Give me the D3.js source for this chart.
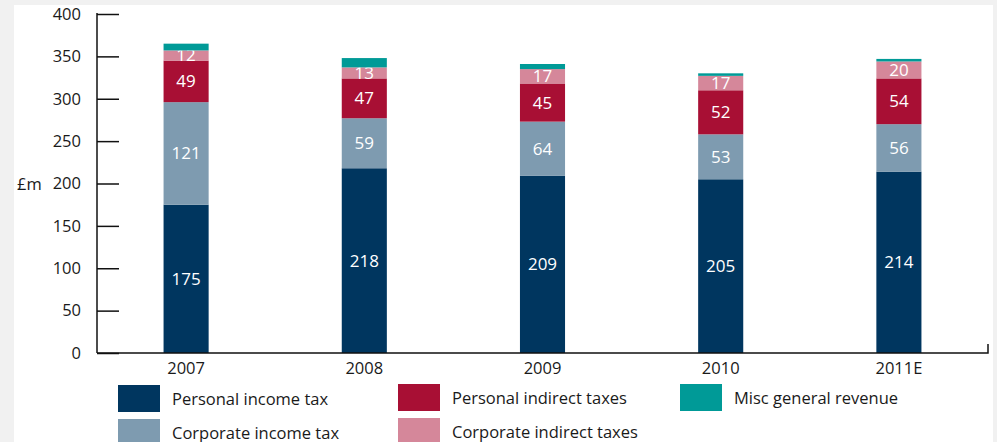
<!DOCTYPE html>
<html>
<head>
<meta charset="utf-8">
<script src="https://cdn.jsdelivr.net/npm/d3@7"></script>
<style>
  html, body { margin: 0; padding: 0; background: #f1f1f1; }
  svg { display: block; }
  text { font-family: "Open Sans", "Noto Sans", sans-serif; }
</style>
</head>
<body>
<svg id="chart" width="997" height="442"></svg>
<script>
// Tax revenue by year (£m)
const years = ["2007", "2008", "2009", "2010", "2011E"];
const personalIncomeTax = [175, 218, 209, 205, 214];
const corporateIncomeTax = [121, 59, 64, 53, 56];
const personalIndirectTaxes = [49, 47, 45, 52, 54];
const corporateIndirectTaxes = [12, 13, 17, 17, 20];
const miscGeneralRevenue = [8, 11, 6, 3, 3];
const yTicks = [0, 50, 100, 150, 200, 250, 300, 350, 400];

const seriesNames = ["Personal income tax", "Corporate income tax", "Personal indirect taxes",
                     "Corporate indirect taxes", "Misc general revenue"];
const seriesValues = [personalIncomeTax, corporateIncomeTax, personalIndirectTaxes,
                      corporateIndirectTaxes, miscGeneralRevenue];
const colors = ["#00365f", "#7e9bb0", "#a80f34", "#d5879a", "#009a97"];
const showLabel = [true, true, true, true, false];

const svg = d3.select("#chart");

// white panel
svg.append("rect").attr("x", 14).attr("y", 5).attr("width", 979).attr("height", 437).attr("fill", "#fff");

const x0 = 97, x1 = 988, yTop = 14, yBase = 353;

const x = d3.scaleBand().domain(years).range([x0, x1]).paddingInner(0.747).paddingOuter(0.3735);
const y = d3.scaleLinear().domain([0, 400]).range([yBase, yTop]);

// stacked data
const rows = years.map((yr, i) => {
  const o = { year: yr };
  seriesNames.forEach((n, k) => { o[n] = seriesValues[k][i]; });
  return o;
});
const stacked = d3.stack().keys(seriesNames)(rows);

const g = svg.append("g");
stacked.forEach((layer, k) => {
  const lg = g.append("g");
  lg.selectAll("rect").data(layer).join("rect")
    .attr("x", d => x(d.data.year))
    .attr("width", x.bandwidth())
    .attr("y", d => y(d[1]))
    .attr("height", d => y(d[0]) - y(d[1]))
    .attr("fill", colors[k]);
  if (showLabel[k]) {
    lg.selectAll("text").data(layer).join("text")
      .attr("x", d => x(d.data.year) + x.bandwidth() / 2)
      .attr("y", d => (y(d[0]) + y(d[1])) / 2)
      .attr("dy", "0.35em")
      .attr("text-anchor", "middle")
      .attr("fill", "#fff")
      .attr("font-size", 17)
      .text(d => d.data[layer.key]);
  }
});

// y axis: ticks pointing into the plot
const yAxis = d3.axisRight(y).tickValues(yTicks).tickSize(22).tickFormat(d3.format("d"));
const ya = svg.append("g").attr("transform", `translate(${x0},0)`).call(yAxis);
ya.select(".domain").remove();
ya.selectAll(".tick line").attr("stroke", "#111").attr("stroke-width", 1.5);
ya.selectAll(".tick text").attr("x", -16).attr("text-anchor", "end")
  .attr("font-size", 16.5).attr("fill", "#1a1a1a");
svg.append("line").attr("x1", x0).attr("x2", x0).attr("y1", yTop - 1).attr("y2", yBase)
  .attr("stroke", "#111").attr("stroke-width", 1.5);

// x axis
const xAxis = d3.axisBottom(x).tickSize(0).tickPadding(9);
const xa = svg.append("g").attr("transform", `translate(0,${yBase})`).call(xAxis);
xa.select(".domain").remove();
xa.selectAll(".tick text").attr("font-size", 16.5).attr("fill", "#1a1a1a");
svg.append("path")
  .attr("d", `M${x0},${yBase}H${x1}V${yBase - 9}`)
  .attr("fill", "none").attr("stroke", "#111").attr("stroke-width", 1.5);

// unit label
svg.append("text").attr("x", 17).attr("y", 184).attr("dy", "0.35em")
  .attr("font-size", 16.5).attr("fill", "#1a1a1a").text("£m");

// legend
const legendPos = [
  [118, 385], [118, 419], [398, 384], [398, 418], [680, 384]
];
const lgd = svg.append("g");
seriesNames.forEach((n, k) => {
  const [lx, ly] = legendPos[k];
  lgd.append("rect").attr("x", lx).attr("y", ly).attr("width", 42).attr("height", 27)
    .attr("fill", colors[k]);
  lgd.append("text").attr("x", lx + 54).attr("y", ly + 14).attr("dy", "0.35em")
    .attr("font-size", 16.5).attr("fill", "#1a1a1a").text(n);
});
</script>
</body>
</html>
